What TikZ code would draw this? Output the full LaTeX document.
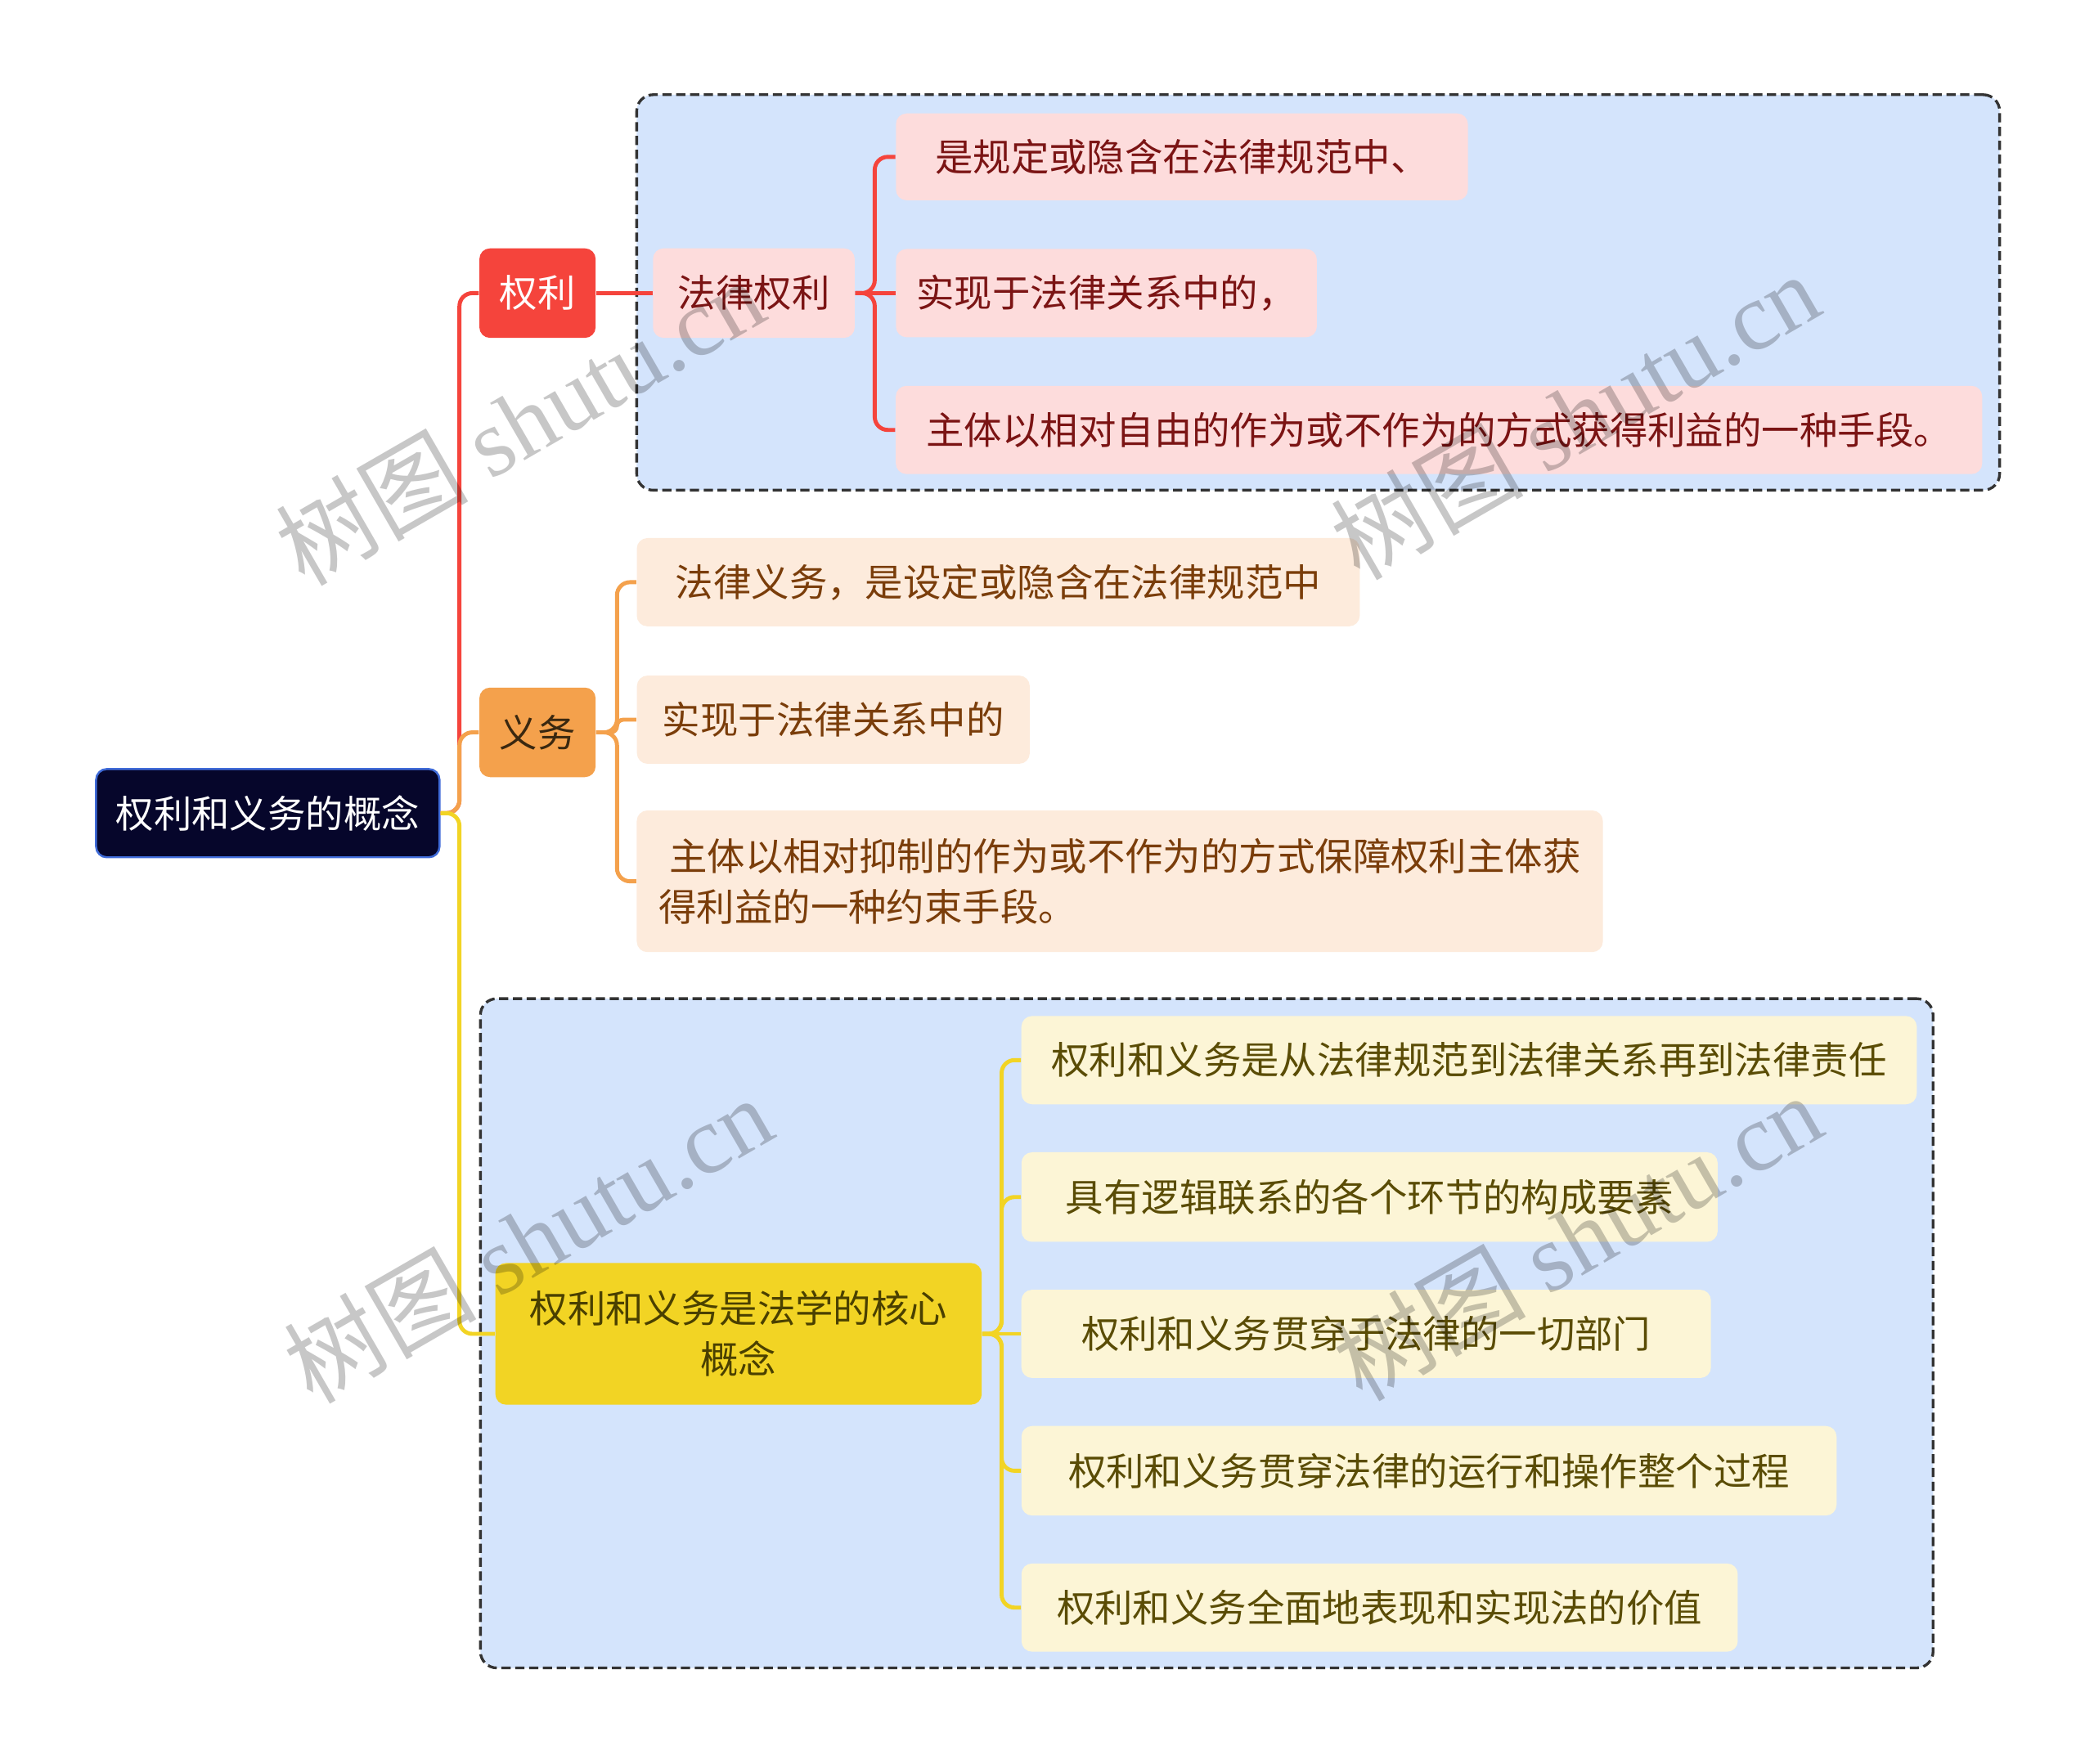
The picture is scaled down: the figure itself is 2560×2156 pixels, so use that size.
\documentclass[tikz,border=0pt]{standalone}
\usepackage{fontspec}
\setmainfont{Noto Sans CJK SC}
\newfontfamily\wmlatin{Liberation Serif}
\usetikzlibrary{calc}
\definecolor{rootfill}{HTML}{06062B}
\definecolor{rootline}{HTML}{3F6BD8}
\definecolor{redc}{HTML}{F5443C}
\definecolor{orangec}{HTML}{F4A14C}
\definecolor{yellowc}{HTML}{F2D424}
\definecolor{pinkfill}{HTML}{FDDCDC}
\definecolor{pinktext}{HTML}{7B1414}
\definecolor{peachfill}{HTML}{FDEBDC}
\definecolor{peachtext}{HTML}{7A3D0A}
\definecolor{creamfill}{HTML}{FCF5D6}
\definecolor{creamtext}{HTML}{5A4C05}
\definecolor{groupfill}{HTML}{D4E4FC}
\definecolor{groupline}{HTML}{333333}
\definecolor{orangetext}{HTML}{3A2810}
\definecolor{yellowtext}{HTML}{4A4000}
\begin{document}
\begin{tikzpicture}[x=0.01cm,y=-0.01cm,
  box/.style={rounded corners=3.7pt, inner sep=0pt, font=\fontsize{13.2pt}{17.6pt}\selectfont},
  rootbox/.style={box, fill=rootfill, draw=rootline, line width=0.7pt, text=white},
  redbox/.style={box, fill=redc, text=white},
  orangebox/.style={box, fill=orangec, text=orangetext},
  yellowbox/.style={box, fill=yellowc, text=yellowtext},
  pinkbox/.style={box, fill=pinkfill, text=pinktext},
  peachbox/.style={box, fill=peachfill, text=peachtext},
  creambox/.style={box, fill=creamfill, text=creamtext},
  groupbox/.style={rounded corners=5.7pt, fill=groupfill, draw=groupline, line width=0.95pt, dash pattern=on 3.2pt off 1.6pt, inner sep=0pt},
  conn/.style={line width=1.4pt, rounded corners=4.5pt},
  redline/.style={conn, draw=redc},
  orangeline/.style={conn, draw=orangec},
  yellowline/.style={conn, draw=yellowc},
  wm/.style={text=black, opacity=0.22, font=\fontsize{33.5pt}{33.5pt}\selectfont, inner sep=0pt}
]
\useasboundingbox (0,0) rectangle (2560,2156);
\fill[white] (0,0) rectangle (2560,2156);

% group frames
\node[groupbox, minimum width=16.653cm, minimum height=4.833cm] (grpA) at (1611.5,357.6) {};
\node[groupbox, minimum width=17.749cm, minimum height=8.179cm] (grpB) at (1475.3,1630.3) {};

% nodes
\node[rootbox, minimum width=4.196cm, minimum height=1.078cm] (root) at (327.4,994.3) {权利和义务的概念};
\node[redbox, minimum width=1.42cm, minimum height=1.094cm] (quanli) at (657.1,358.4) {权利};
\node[orangebox, minimum width=1.42cm, minimum height=1.094cm] (yiwu) at (657.1,895.5) {义务};
\node[yellowbox, minimum width=5.943cm, minimum height=1.731cm, align=center] (core) at (902.9,1631) {权利和义务是法学的核心\\概念};

\node[pinkbox, minimum width=2.465cm, minimum height=1.094cm] (falv) at (921.6,358.4) {法律权利};
\node[pinkbox, minimum width=6.988cm, minimum height=1.061cm] (pa) at (1444.9,191.8) {是规定或隐含在法律规范中、};
\node[pinkbox, minimum width=5.143cm, minimum height=1.078cm] (pb) at (1352.6,358.4) {实现于法律关系中的，};
\node[pinkbox, minimum width=13.274cm, minimum height=1.078cm] (pc) at (1759.2,525.7) {主体以相对自由的作为或不作为的方式获得利益的一种手段。};

\node[peachbox, minimum width=8.833cm, minimum height=1.078cm] (od) at (1220.4,711.9) {法律义务，是设定或隐含在法律规范中};
\node[peachbox, minimum width=4.80cm, minimum height=1.078cm] (oe) at (1018.8,880) {实现于法律关系中的};
\node[peachbox, minimum width=11.804cm, minimum height=1.731cm, align=left] (of) at (1369,1077.6) {\hspace*{0.13cm}主体以相对抑制的作为或不作为的方式保障权利主体获\\得利益的一种约束手段。};

\node[creambox, minimum width=10.939cm, minimum height=1.078cm] (yg) at (1796,1296.3) {权利和义务是从法律规范到法律关系再到法律责任};
\node[creambox, minimum width=8.506cm, minimum height=1.094cm] (yh) at (1674.3,1463.7) {具有逻辑联系的各个环节的构成要素};
\node[creambox, minimum width=8.425cm, minimum height=1.078cm] (yi) at (1670.2,1631) {权利和义务贯穿于法律的一切部门};
\node[creambox, minimum width=9.959cm, minimum height=1.094cm] (yj) at (1747,1798.4) {权利和义务贯穿法律的运行和操作整个过程};
\node[creambox, minimum width=8.752cm, minimum height=1.078cm] (yk) at (1686.6,1965.7) {权利和义务全面地表现和实现法的价值};

% trunk coordinates
\coordinate (t0) at (561.7,994.3);
\coordinate (t1) at (1069.4,358.4);
\coordinate (t2) at (754.3,895.5);
\coordinate (t3) at (1224.5,1631);

% connectors
\draw[redline] (root.east) -- (t0) |- (quanli.west);
\draw[orangeline] (root.east) -- (t0) |- (yiwu.west);
\draw[yellowline] (root.east) -- (t0) |- (core.west);

\draw[redline] (quanli.east) -- (falv.west);
\draw[redline] (falv.east) -- (t1) |- (pa.west);
\draw[redline] (falv.east) -- (pb.west);
\draw[redline] (falv.east) -- (t1) |- (pc.west);

\draw[orangeline] (yiwu.east) -- (t2) |- (od.west);
\draw[orangeline, rounded corners=2.2pt] (yiwu.east) -- (t2) |- (oe.west);
\draw[orangeline] (yiwu.east) -- (t2) |- (of.west);

\draw[yellowline] (core.east) -- (t3) |- (yg.west);
\draw[yellowline] (core.east) -- (t3) |- (yh.west);
\draw[yellowline] (core.east) -- (yi.west);
\draw[yellowline] (core.east) -- (t3) |- (yj.west);
\draw[yellowline] (core.east) -- (t3) |- (yk.west);

% watermarks
\node[wm, rotate=30] (wm1) at (635,515) {树图 {\wmlatin shutu.cn}};
\node[wm, rotate=30] (wm2) at (1925,508) {树图 {\wmlatin shutu.cn}};
\node[wm, rotate=30] (wm3) at (645,1515) {树图 {\wmlatin shutu.cn}};
\node[wm, rotate=30] (wm4) at (1928,1512) {树图 {\wmlatin shutu.cn}};
\end{tikzpicture}
\end{document}
